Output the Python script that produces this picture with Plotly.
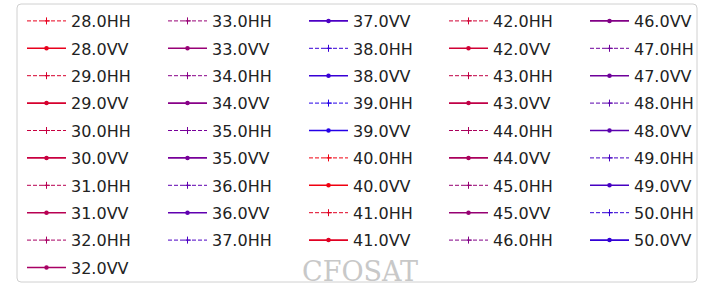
import plotly.graph_objects as go

# ---- data ----
angles = [28.0, 29.0, 30.0, 31.0, 32.0, 33.0, 34.0, 35.0, 36.0, 37.0, 38.0, 39.0,
          40.0, 41.0, 42.0, 43.0, 44.0, 45.0, 46.0, 47.0, 48.0, 49.0, 50.0]
pols = ["HH", "VV"]
colors = ["#e8001c", "#d6002e", "#c80040", "#b80052", "#a80064", "#980076",
          "#880088", "#78009a", "#6000b0", "#4c00c4", "#3800d6", "#2400e8",
          "#f00010", "#e00022", "#d00034", "#c00046", "#aa005c", "#960072",
          "#820086", "#6e009a", "#5a00ae", "#4600c2", "#3200d6"]
watermark = "CFOSAT"

W, H = 702, 283
col_sizes = [10, 9, 9, 9, 9]
col_text_x = [71, 212, 353, 493, 634]
legend_names = ["legend", "legend2", "legend3", "legend4", "legend5"]

entries = []
for a, c in zip(angles, colors):
    for p in pols:
        entries.append((a, p, c))

fig = go.Figure()
idx = 0
for ci, n in enumerate(col_sizes):
    for _ in range(n):
        a, p, c = entries[idx]
        name = f"{a:.1f}{p}"
        if p == "HH":
            line = dict(color=c, width=1, dash="4px,2px")
            marker = dict(symbol="cross-thin", size=5, line=dict(color=c, width=1), color=c)
        else:
            line = dict(color=c, width=1.6)
            marker = dict(symbol="circle", size=4.5, color=c, line=dict(width=0))
        fig.add_trace(go.Scatter(
            x=[None], y=[None], mode="lines+markers", name=name,
            line=line, marker=marker, legendgroup=name,
            legend=legend_names[ci]))
        idx += 1

itemwidth = 39
legend_font = dict(family="DejaVu Sans", size=16, color="#222222")
layout_legends = {}
for ci, ln in enumerate(legend_names):
    x_px = col_text_x[ci] - (itemwidth + 10)
    layout_legends[ln] = dict(
        x=x_px / W, xanchor="left", y=1 - 4 / H, yanchor="top",
        orientation="v", traceorder="grouped", tracegroupgap=3.6,
        itemwidth=itemwidth, font=legend_font,
        bgcolor="rgba(0,0,0,0)", borderwidth=0)

# legend frame (rounded rectangle) in paper coordinates
x0, x1 = 17 / W, 697 / W
y0, y1 = 1 - 282 / H, 1 - 4 / H
rx, ry = 4 / W, 4 / H
path = (f"M {x0+rx},{y1} L {x1-rx},{y1} Q {x1},{y1} {x1},{y1-ry} "
        f"L {x1},{y0+ry} Q {x1},{y0} {x1-rx},{y0} L {x0+rx},{y0} "
        f"Q {x0},{y0} {x0},{y0+ry} L {x0},{y1-ry} Q {x0},{y1} {x0+rx},{y1} Z")

fig.update_layout(
    width=W, height=H,
    margin=dict(l=0, r=0, t=0, b=0, autoexpand=False),
    paper_bgcolor="white", plot_bgcolor="white",
    xaxis=dict(visible=False), yaxis=dict(visible=False),
    shapes=[dict(type="path", xref="paper", yref="paper", path=path,
                 line=dict(color="#d0d0d0", width=1), fillcolor="rgba(255,255,255,0)",
                 layer="below")],
    annotations=[dict(text=watermark, xref="paper", yref="paper",
                      x=360 / W, y=1 - 289 / H, xanchor="center", yanchor="bottom",
                      showarrow=False,
                      font=dict(family="DejaVu Serif", size=27, color="#c8c8c8"))],
    **layout_legends,
)

fig.write_html("out.html", config={"displayModeBar": False},
               post_script="document.body.style.margin='0';")
